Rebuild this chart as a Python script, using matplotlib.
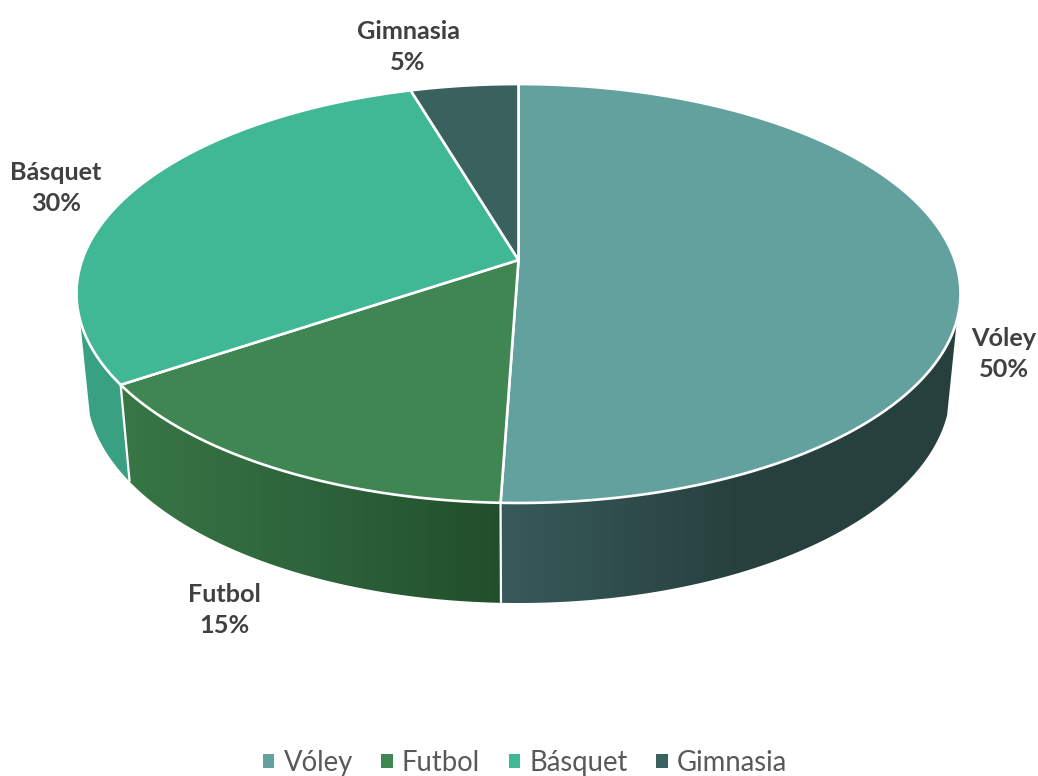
import numpy as np
import matplotlib
matplotlib.use("Agg")
import matplotlib.pyplot as plt
from matplotlib.patches import Polygon, Patch
from matplotlib.colors import to_rgb

# ---- data ----
categories = ["Vóley", "Futbol", "Básquet", "Gimnasia"]
shares = [50.55, 15.05, 29.8, 4.6]      # slice sizes as drawn
percent_labels = ["50%", "15%", "30%", "5%"]

# ---- styles ----
top_colors = ["#62A19E", "#3F8653", "#40B895", "#39625F"]
wall_stops = [
    [(500, "#385A5B"), (740, "#27403E"), (960, "#27403E")],
    [(125, "#387645"), (300, "#2E653C"), (500, "#214F2A")],
    [(75, "#37A181"), (130, "#3AA283")],
    [(0, "#39625F"), (1038, "#39625F")],
]
label_pos = [(1004, 354), (224, 610), (56, 188), (408, 47)]

W, H = 1038, 776
plt.rcParams["font.family"] = ["Lato", "DejaVu Sans"]
fig = plt.figure(figsize=(W / 100, H / 100), dpi=100)
ax = fig.add_axes([0, 0, 1, 1])
ax.set_xlim(0, W)
ax.set_ylim(H, 0)
ax.axis("off")

P = 0.16
CX = 518.5


def rim(theta_deg, A, B, cy):
    t = np.radians(theta_deg)
    u, v = np.sin(t), -np.cos(t)
    w = 1 - P * v
    return np.column_stack([CX + A * u / w, cy + B * v / w])


def upper(t):
    return rim(t, 436.3, 204.1, 260.0)


def lower(t):
    return rim(t, 426.5, 209.5, 353.6)


edges = np.concatenate([[0], np.cumsum(shares)]) / np.sum(shares) * 360
VIS_A, VIS_B = 106.3, 253.7

# side wall: a horizontal colour ramp clipped to each slice's outline
for i in range(len(shares)):
    a, b = max(edges[i], VIS_A), min(edges[i + 1], VIS_B)
    if a >= b:
        continue
    ts = np.linspace(a, b, 200)
    outline = np.vstack([upper(ts), lower(ts)[::-1]])
    x0, x1 = outline[:, 0].min() - 1, outline[:, 0].max() + 1
    y0, y1 = outline[:, 1].min() - 1, outline[:, 1].max() + 1
    xs = np.linspace(x0, x1, 512)
    stops = wall_stops[i]
    sx = [s[0] for s in stops]
    sc = np.array([to_rgb(s[1]) for s in stops])
    ramp = np.stack([np.interp(xs, sx, sc[:, k]) for k in range(3)], axis=-1)[None, :, :]
    patch = Polygon(outline, closed=True, facecolor="none", edgecolor="none",
                    transform=ax.transData)
    ax.add_patch(patch)
    im = ax.imshow(ramp, extent=(x0, x1, y1, y0), aspect="auto", zorder=1,
                   interpolation="bilinear")
    im.set_clip_path(patch)
ax.set_xlim(0, W)
ax.set_ylim(H, 0)

# white seams between the wall pieces
for e in edges[1:-1]:
    if VIS_A < e < VIS_B:
        u_pt, l_pt = upper(np.array([e]))[0], lower(np.array([e]))[0]
        ax.plot([u_pt[0], l_pt[0]], [u_pt[1], l_pt[1]], color="white", lw=1.6, zorder=2,
                solid_capstyle="butt")

# top face
apex = np.array([[CX, 260.0]])
for i in range(len(shares)):
    ts = np.linspace(edges[i], edges[i + 1], 200)
    poly = np.vstack([apex, upper(ts)])
    ax.add_patch(Polygon(poly, closed=True, facecolor=top_colors[i], edgecolor="white",
                         lw=1.9, joinstyle="round", zorder=3))

# data labels
for cat, pct, (x, y) in zip(categories, percent_labels, label_pos):
    ax.text(x, y, f"{cat}\n{pct}", ha="center", va="center", fontsize=18.2, fontweight="bold",
            color="#404040", linespacing=1.45, zorder=5)

# legend
handles = [Patch(facecolor=c, edgecolor="none", label=n) for c, n in zip(top_colors, categories)]
ax.legend(handles=handles, ncol=4, loc="center", bbox_to_anchor=(525, 763),
          bbox_transform=ax.transData, frameon=False, fontsize=19.8,
          labelcolor="#595959", handlelength=0.42, handleheight=0.42,
          handletextpad=0.33, columnspacing=1.04, borderpad=0, borderaxespad=0)

fig.savefig("out.png", dpi=100, facecolor="white")
